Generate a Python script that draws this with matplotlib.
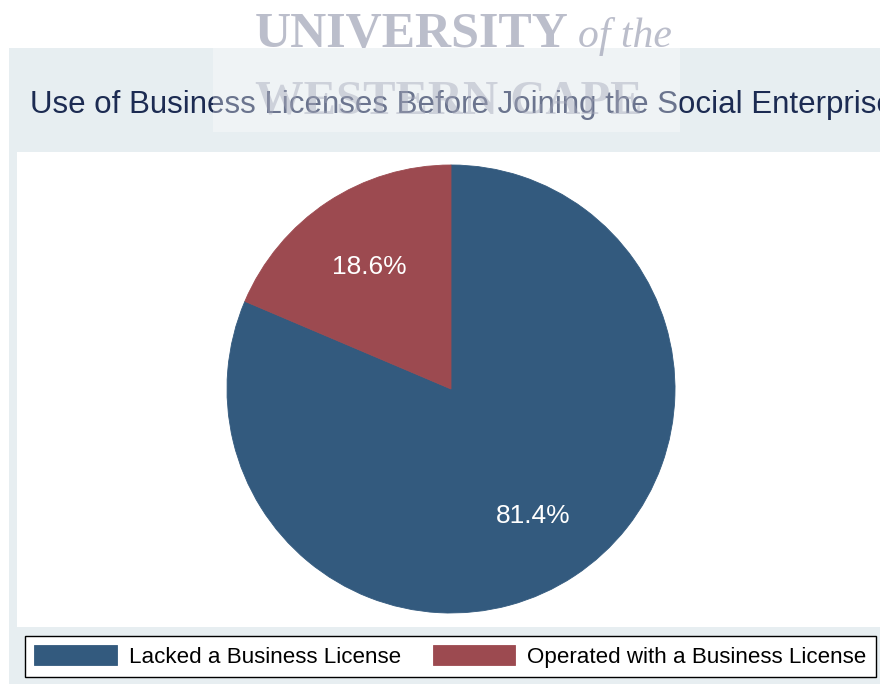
import matplotlib
matplotlib.use("Agg")
import matplotlib.pyplot as plt
from matplotlib.patches import Rectangle

# Data
labels = ["Lacked a Business License", "Operated with a Business License"]
shares = [81.4, 18.6]
colors = ["#335a7e", "#9c4a50"]
title = "Use of Business Licenses Before Joining the Social Enterprise"

W, H = 880, 684
plt.rcParams["font.family"] = ["Liberation Sans", "DejaVu Sans"]


def fx(x):
    return x / W


def fy(y):
    # y measured from the top edge
    return 1 - y / H


fig = plt.figure(figsize=(W / 100, H / 100), dpi=100, facecolor="white")

# Graph region background and white plot region
fig.patches.append(Rectangle((fx(9), 0), 1 - fx(9), fy(48), transform=fig.transFigure,
                             facecolor="#e7eef1", edgecolor="none", zorder=-2))
fig.patches.append(Rectangle((fx(17), fy(627)), 1 - fx(17), fy(152) - fy(627),
                             transform=fig.transFigure, facecolor="white",
                             edgecolor="none", zorder=-1))

fig.text(fx(30), fy(105), title, fontsize=22.5, color="#1c2b52", va="center", ha="left")

# Pie
cx, cy, r = 451, 389, 224
ax = fig.add_axes([fx(cx - r), fy(cy + r), 2 * r / W, 2 * r / H])
wedges, _, autotexts = ax.pie(
    shares, colors=colors, startangle=90, counterclock=False,
    autopct="%.1f%%", pctdistance=0.665, radius=1,
    wedgeprops=dict(linewidth=0.6),
    textprops=dict(color="white", fontsize=19),
)
for w, c in zip(wedges, colors):
    w.set_edgecolor(c)
for t in autotexts:
    t.set_va("center_baseline")
ax.set_xlim(-1, 1)
ax.set_ylim(-1, 1)
ax.set_aspect("equal")
ax.axis("off")

# Legend
leg = fig.legend(wedges, labels, ncol=2, loc="lower left",
                 bbox_to_anchor=(fx(25), fy(677)),
                 fontsize=16.1, handlelength=3.68, handleheight=1.0,
                 handletextpad=0.54, columnspacing=1.44, borderpad=0.42,
                 borderaxespad=0, frameon=True, fancybox=False)
leg.get_frame().set_edgecolor("black")
leg.get_frame().set_linewidth(1.0)
leg.get_frame().set_facecolor("white")
leg.get_frame().set_alpha(1)

# Watermark overlay
fig.patches.append(Rectangle((fx(213), fy(132)), fx(680) - fx(213), fy(0) - fy(132),
                             transform=fig.transFigure, facecolor="white",
                             edgecolor="none", alpha=0.35, zorder=10))
fig.text(fx(255), fy(47), "UNIVERSITY", family="Liberation Serif", weight="bold",
         fontsize=36, color="#a5a8ba", alpha=0.75, ha="left", va="baseline", zorder=11)
fig.text(fx(578), fy(47), "of the", family="Liberation Serif", style="italic",
         fontsize=30, color="#a5a8ba", alpha=0.75, ha="left", va="baseline", zorder=11)
fig.text(fx(255), fy(114), "WESTERN CAPE", family="Liberation Serif", weight="bold",
         fontsize=35, color="#a5a8ba", alpha=0.45, ha="left", va="baseline", zorder=11)

fig.savefig("out.png", dpi=100, facecolor="white")
